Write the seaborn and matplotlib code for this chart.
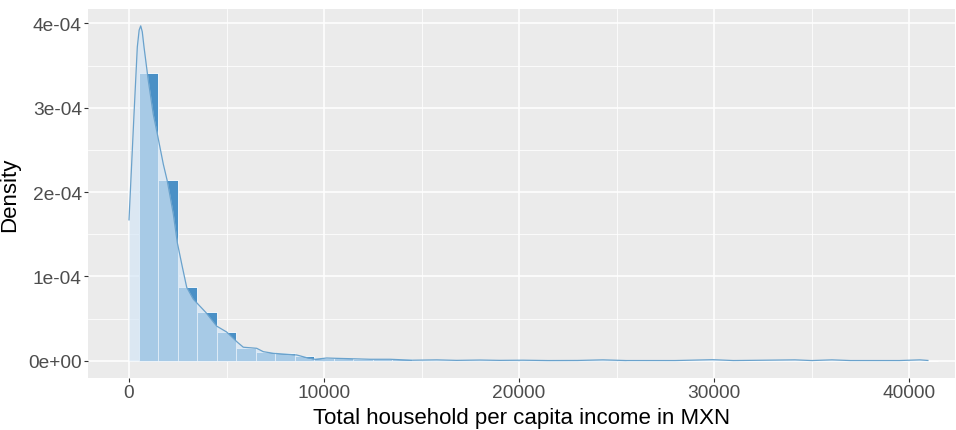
import numpy as np
import pandas as pd
import matplotlib
matplotlib.use("Agg")
import matplotlib.pyplot as plt
from matplotlib.ticker import MultipleLocator
import seaborn as sns

# Histogram: bin centres (MXN) and bar densities (units of 1e-4)
bin_centers = [1000 * k for k in range(1, 42)]
bar_density_e4 = [3.41, 2.14, 0.874, 0.58, 0.336, 0.147, 0.107, 0.088, 0.06, 0.028,
                  0.028, 0.024, 0.018, 0.016, 0.012, 0.010, 0.008, 0.007, 0.006, 0.005,
                  0.004, 0.004, 0.003, 0.003, 0.003, 0.002, 0.002, 0.002, 0.002, 0.002,
                  0.002, 0.001, 0.001, 0.001, 0.001, 0.001, 0.001, 0.001, 0.001, 0.001,
                  0.001]

# Kernel density estimate of income (units of 1e-4)
kde_income = [0, 256, 426, 520, 600, 680, 769, 990, 1246, 1451, 1759, 1964, 2272, 2477,
              2718, 2959, 3297, 3949, 4497, 5010, 5554, 5862, 6549, 6887, 7400, 7913,
              8600, 9113, 9538, 10138, 10651, 11333, 12359, 13385, 13897, 14564, 15780,
              16800, 18000, 19000, 20200, 21500, 23000, 24300, 25500, 28000, 29950,
              31000, 34150, 35000, 36050, 37000, 39500, 40560, 40970]
kde_density_e4 = [1.67, 2.92, 3.72, 3.92, 3.97, 3.90, 3.72, 3.32, 2.92, 2.69, 2.33, 2.13,
                  1.74, 1.40, 1.13, 0.87, 0.73, 0.57, 0.41, 0.34, 0.22, 0.16, 0.147,
                  0.107, 0.088, 0.079, 0.068, 0.036, 0.017, 0.032, 0.028, 0.024, 0.017,
                  0.017, 0.012, 0.006, 0.010, 0.004, 0.008, 0.004, 0.006, 0.002, 0.003,
                  0.010, 0.002, 0.002, 0.012, 0.002, 0.010, 0.002, 0.010, 0.002, 0.002,
                  0.010, 0.003]

x_ticks = [0, 10000, 20000, 30000, 40000]
x_tick_labels = ["0", "10000", "20000", "30000", "40000"]
y_ticks = [0, 1e-4, 2e-4, 3e-4, 4e-4]
y_tick_labels = ["0e+00", "1e-04", "2e-04", "3e-04", "4e-04"]

bins = pd.DataFrame({"income": bin_centers,
                     "density": np.array(bar_density_e4) * 1e-4})
kde = pd.DataFrame({"income": kde_income,
                    "density": np.array(kde_density_e4) * 1e-4})

plt.rcParams["font.family"] = ["Liberation Sans", "DejaVu Sans"]

fig = plt.figure(figsize=(9.56, 4.31), dpi=100)
W, H = 956, 431
ax = fig.add_axes([88 / W, 1 - 379 / H, (955 - 88) / W, (379 - 10) / H])
ax.set_facecolor("#EBEBEB")

sns.histplot(data=bins, x="income", weights="density", binwidth=1000,
             binrange=(500, 41500), stat="count",
             color="#4A90C6", alpha=1, edgecolor="white", linewidth=0.6, ax=ax)
ax.fill_between(kde["income"], kde["density"], color=(212 / 255, 230 / 255, 246 / 255),
                alpha=0.68, linewidth=0, zorder=3)
sns.lineplot(data=kde, x="income", y="density", color="#6AA2CC", linewidth=0.9,
             ax=ax, zorder=4)

ax.set_xlim(-2103, 42359)
ax.set_ylim(-0.205e-4, 4.17e-4)

ax.set_xticks(x_ticks)
ax.set_xticklabels(x_tick_labels)
ax.set_yticks(y_ticks)
ax.set_yticklabels(y_tick_labels)
ax.xaxis.set_minor_locator(MultipleLocator(5000))
ax.yaxis.set_minor_locator(MultipleLocator(0.5e-4))

ax.grid(which="major", color="white", linewidth=1.1, zorder=0)
ax.grid(which="minor", color="white", linewidth=0.55, zorder=0)
ax.set_axisbelow(True)
for s in ax.spines.values():
    s.set_visible(False)

ax.tick_params(which="major", length=3, width=0.8, color="#333333",
               labelcolor="#4D4D4D", labelsize=13.8, pad=1.5)
ax.tick_params(which="minor", length=0)

ax.set_xlabel("Total household per capita income in MXN", fontsize=16, color="black",
              labelpad=4.5)
ax.set_ylabel("Density", fontsize=16, color="black", labelpad=6)

fig.savefig("out.png", dpi=100)
